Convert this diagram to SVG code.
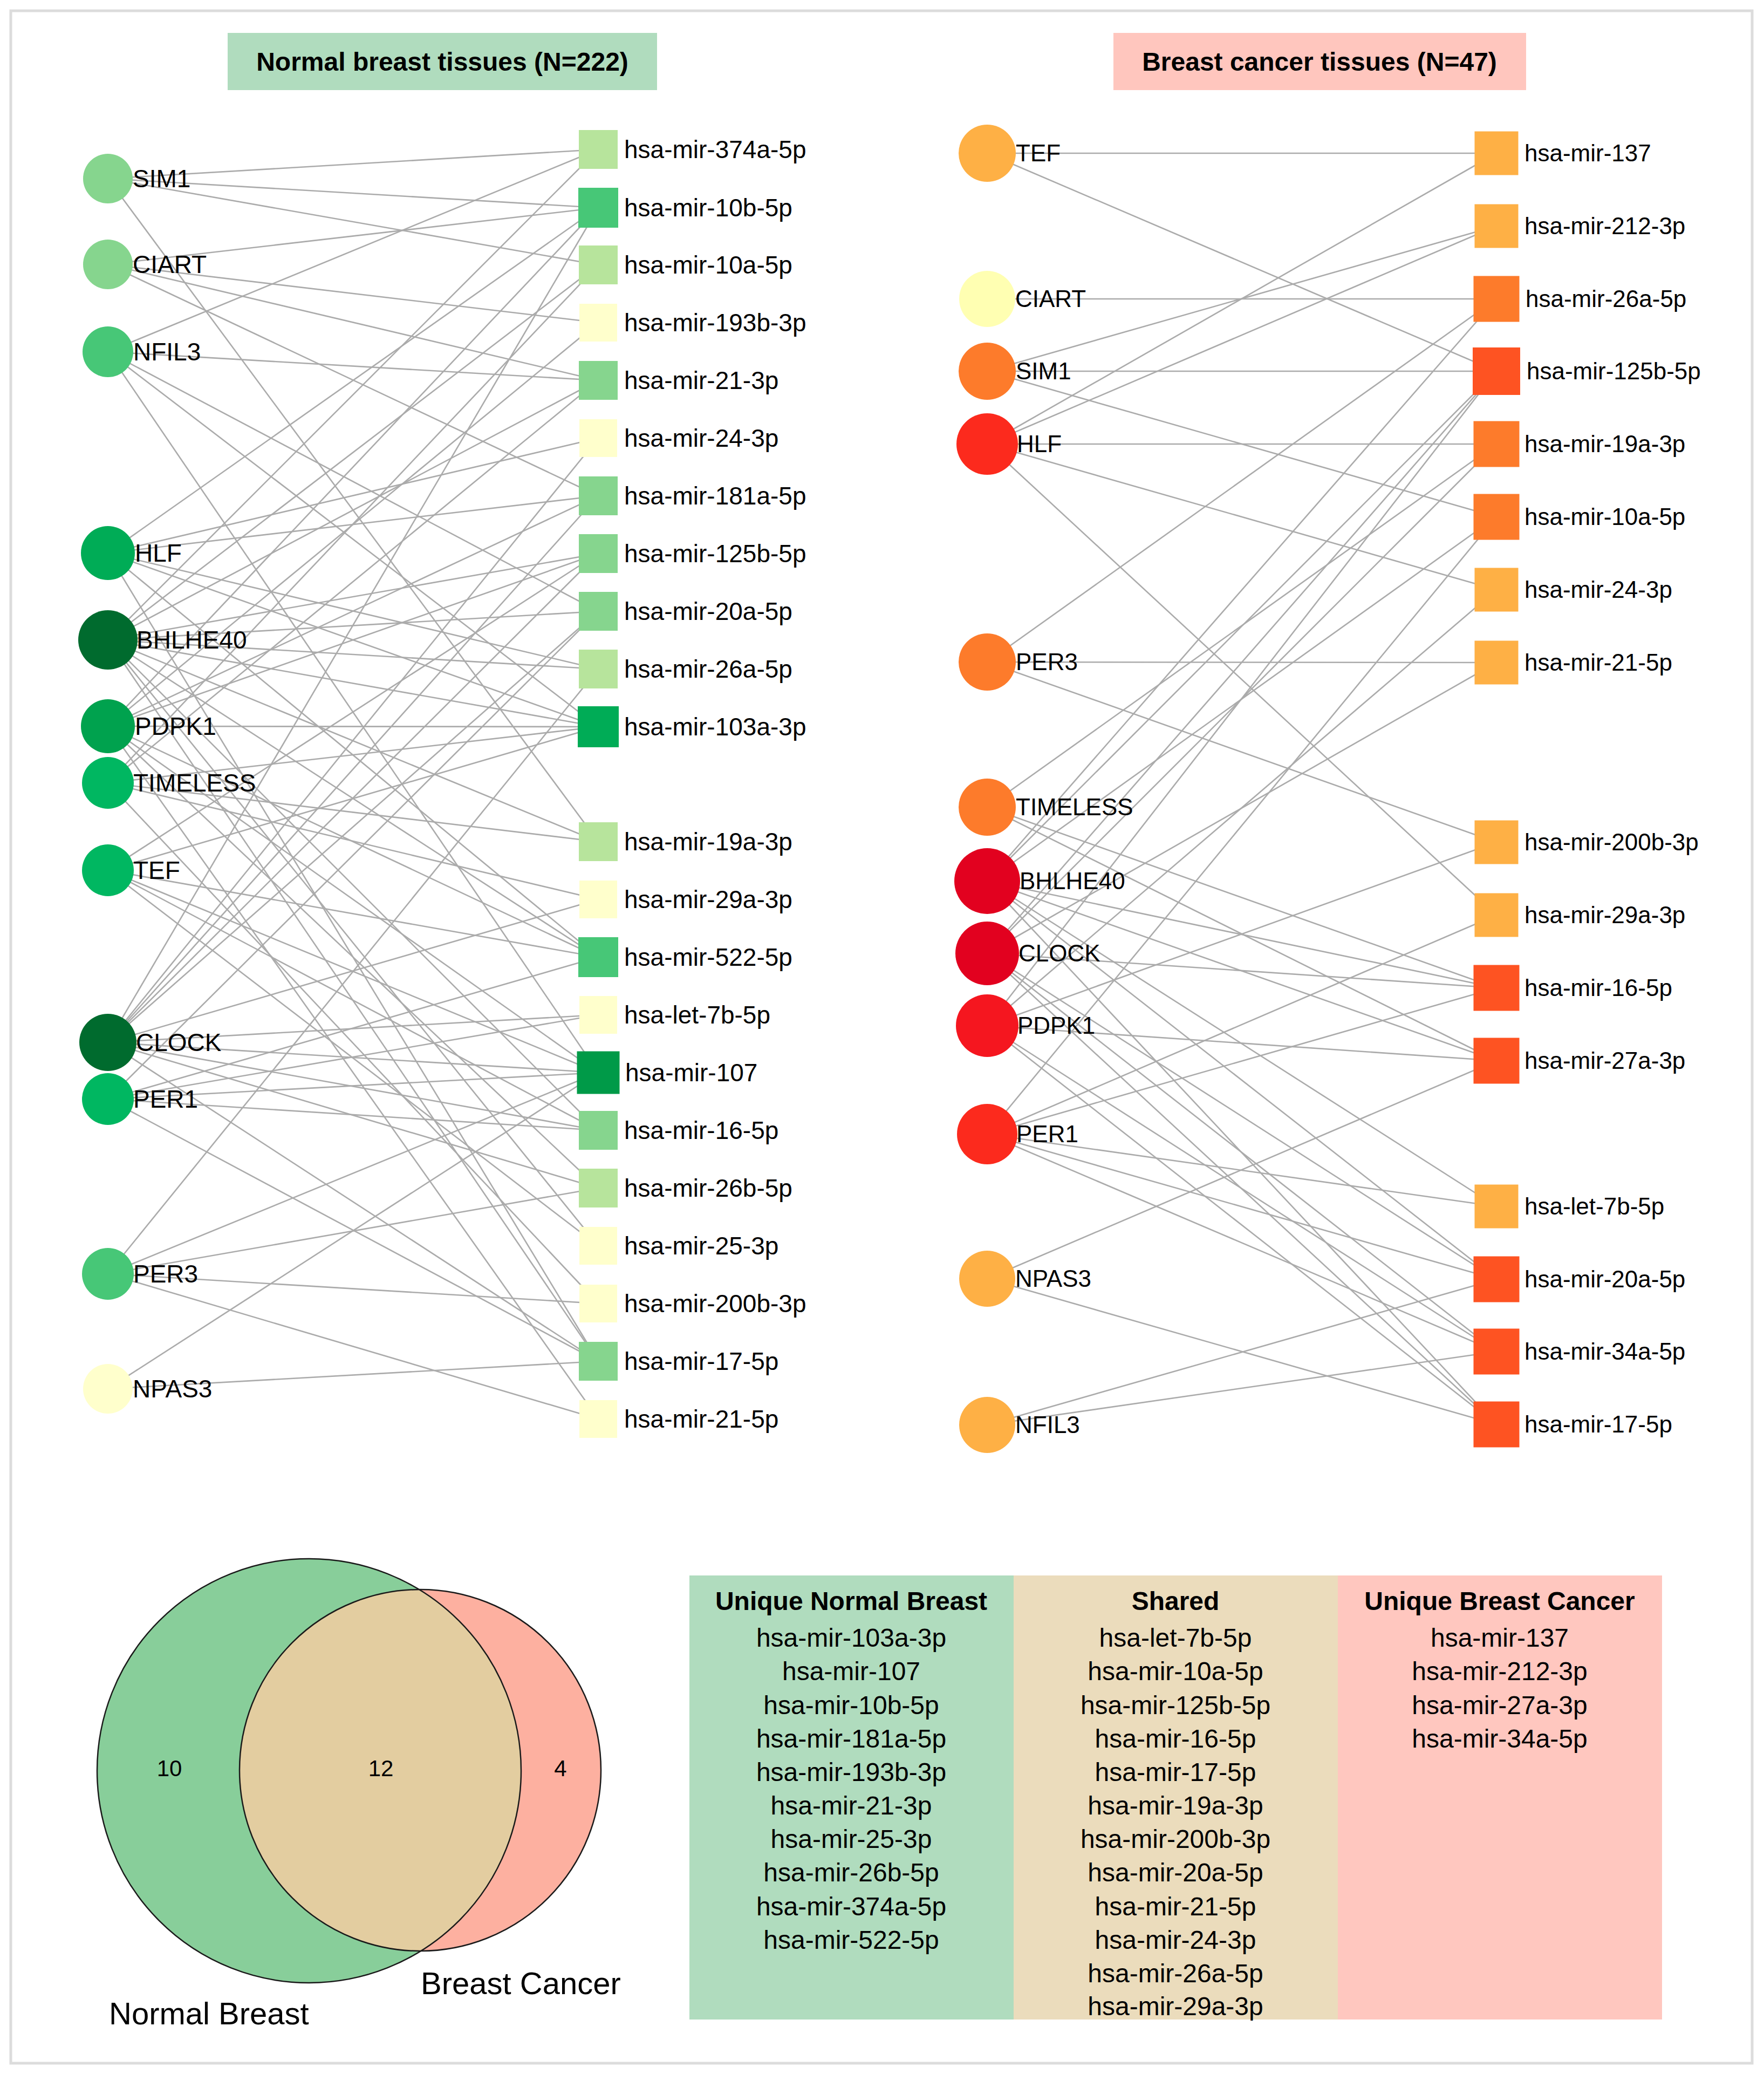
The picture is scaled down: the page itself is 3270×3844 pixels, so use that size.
<svg xmlns="http://www.w3.org/2000/svg" width="3270" height="3844" viewBox="0 0 3270 3844">
<defs>
<style>
.e{stroke:#ABABAB;stroke-width:2.6;fill:none}
.ll{font-family:"Liberation Sans",Arial,sans-serif;font-size:46px;fill:#000}
.rl{font-family:"Liberation Sans",Arial,sans-serif;font-size:44px;fill:#000}
.tt{font-family:"Liberation Sans",Arial,sans-serif;font-size:48px;font-weight:bold;fill:#000;text-anchor:middle}
.th{font-family:"Liberation Sans",Arial,sans-serif;font-size:48px;font-weight:bold;fill:#000;text-anchor:middle}
.tc{font-family:"Liberation Sans",Arial,sans-serif;font-size:48px;fill:#000;text-anchor:middle}
.vn{font-family:"Liberation Sans",Arial,sans-serif;font-size:42px;fill:#000;text-anchor:middle}
.vl{font-family:"Liberation Sans",Arial,sans-serif;font-size:58px;fill:#000}
</style>
<clipPath id="greenClip"><circle cx="573" cy="3282" r="393"/></clipPath>
</defs>
<rect x="0" y="0" width="3270" height="3844" fill="#FFFFFF"/>
<rect x="20" y="20" width="3228" height="3804" fill="none" stroke="#DCDCDC" stroke-width="5"/>

<g id="title-normal"><rect x="422" y="61" width="796" height="106" fill="#B0DCBE"/><text x="820" y="131" class="tt">Normal breast tissues (N=222)</text></g>
<g id="title-cancer"><rect x="2064" y="61" width="765" height="106" fill="#FFC6BE"/><text x="2446" y="131" class="tt">Breast cancer tissues (N=47)</text></g>

<g id="connectors-normal">
<line class="e" x1="200" y1="331" x2="1109" y2="277"/>
<line class="e" x1="200" y1="331" x2="1109" y2="385"/>
<line class="e" x1="200" y1="331" x2="1109" y2="491"/>
<line class="e" x1="200" y1="331" x2="1109" y2="1560"/>
<line class="e" x1="200" y1="490" x2="1109" y2="385"/>
<line class="e" x1="200" y1="490" x2="1109" y2="598"/>
<line class="e" x1="200" y1="490" x2="1109" y2="705"/>
<line class="e" x1="200" y1="490" x2="1109" y2="919"/>
<line class="e" x1="200" y1="652" x2="1109" y2="277"/>
<line class="e" x1="200" y1="652" x2="1109" y2="705"/>
<line class="e" x1="200" y1="652" x2="1109" y2="1133"/>
<line class="e" x1="200" y1="652" x2="1109" y2="1347"/>
<line class="e" x1="200" y1="652" x2="1109" y2="1988"/>
<line class="e" x1="200" y1="1025" x2="1109" y2="385"/>
<line class="e" x1="200" y1="1025" x2="1109" y2="812"/>
<line class="e" x1="200" y1="1025" x2="1109" y2="919"/>
<line class="e" x1="200" y1="1025" x2="1109" y2="1240"/>
<line class="e" x1="200" y1="1025" x2="1109" y2="1347"/>
<line class="e" x1="200" y1="1025" x2="1109" y2="1774"/>
<line class="e" x1="200" y1="1025" x2="1109" y2="2523"/>
<line class="e" x1="200" y1="1186" x2="1109" y2="277"/>
<line class="e" x1="200" y1="1186" x2="1109" y2="491"/>
<line class="e" x1="200" y1="1186" x2="1109" y2="705"/>
<line class="e" x1="200" y1="1186" x2="1109" y2="1026"/>
<line class="e" x1="200" y1="1186" x2="1109" y2="1133"/>
<line class="e" x1="200" y1="1186" x2="1109" y2="1240"/>
<line class="e" x1="200" y1="1186" x2="1109" y2="1347"/>
<line class="e" x1="200" y1="1186" x2="1109" y2="1560"/>
<line class="e" x1="200" y1="1186" x2="1109" y2="1774"/>
<line class="e" x1="200" y1="1186" x2="1109" y2="2095"/>
<line class="e" x1="200" y1="1186" x2="1109" y2="2309"/>
<line class="e" x1="200" y1="1186" x2="1109" y2="2523"/>
<line class="e" x1="200" y1="1346" x2="1109" y2="385"/>
<line class="e" x1="200" y1="1346" x2="1109" y2="598"/>
<line class="e" x1="200" y1="1346" x2="1109" y2="919"/>
<line class="e" x1="200" y1="1346" x2="1109" y2="1026"/>
<line class="e" x1="200" y1="1346" x2="1109" y2="1347"/>
<line class="e" x1="200" y1="1346" x2="1109" y2="1774"/>
<line class="e" x1="200" y1="1346" x2="1109" y2="1988"/>
<line class="e" x1="200" y1="1346" x2="1109" y2="2202"/>
<line class="e" x1="200" y1="1346" x2="1109" y2="2630"/>
<line class="e" x1="200" y1="1451" x2="1109" y2="491"/>
<line class="e" x1="200" y1="1451" x2="1109" y2="705"/>
<line class="e" x1="200" y1="1451" x2="1109" y2="1347"/>
<line class="e" x1="200" y1="1451" x2="1109" y2="1560"/>
<line class="e" x1="200" y1="1451" x2="1109" y2="1667"/>
<line class="e" x1="200" y1="1451" x2="1109" y2="2416"/>
<line class="e" x1="200" y1="1613" x2="1109" y2="1026"/>
<line class="e" x1="200" y1="1613" x2="1109" y2="1347"/>
<line class="e" x1="200" y1="1613" x2="1109" y2="1774"/>
<line class="e" x1="200" y1="1613" x2="1109" y2="1988"/>
<line class="e" x1="200" y1="1613" x2="1109" y2="2095"/>
<line class="e" x1="200" y1="1613" x2="1109" y2="2309"/>
<line class="e" x1="200" y1="1932" x2="1109" y2="385"/>
<line class="e" x1="200" y1="1932" x2="1109" y2="812"/>
<line class="e" x1="200" y1="1932" x2="1109" y2="919"/>
<line class="e" x1="200" y1="1932" x2="1109" y2="1026"/>
<line class="e" x1="200" y1="1932" x2="1109" y2="1133"/>
<line class="e" x1="200" y1="1932" x2="1109" y2="1667"/>
<line class="e" x1="200" y1="1932" x2="1109" y2="1881"/>
<line class="e" x1="200" y1="1932" x2="1109" y2="1988"/>
<line class="e" x1="200" y1="1932" x2="1109" y2="2095"/>
<line class="e" x1="200" y1="1932" x2="1109" y2="2202"/>
<line class="e" x1="200" y1="1932" x2="1109" y2="2523"/>
<line class="e" x1="200" y1="2037" x2="1109" y2="1133"/>
<line class="e" x1="200" y1="2037" x2="1109" y2="1774"/>
<line class="e" x1="200" y1="2037" x2="1109" y2="1881"/>
<line class="e" x1="200" y1="2037" x2="1109" y2="1988"/>
<line class="e" x1="200" y1="2037" x2="1109" y2="2095"/>
<line class="e" x1="200" y1="2037" x2="1109" y2="2523"/>
<line class="e" x1="200" y1="2361" x2="1109" y2="1240"/>
<line class="e" x1="200" y1="2361" x2="1109" y2="1988"/>
<line class="e" x1="200" y1="2361" x2="1109" y2="2202"/>
<line class="e" x1="200" y1="2361" x2="1109" y2="2416"/>
<line class="e" x1="200" y1="2361" x2="1109" y2="2630"/>
<line class="e" x1="200" y1="2574" x2="1109" y2="1988"/>
<line class="e" x1="200" y1="2574" x2="1109" y2="2523"/>
</g>

<g id="connectors-cancer">
<line class="e" x1="1830" y1="284" x2="2774" y2="284"/>
<line class="e" x1="1830" y1="284" x2="2774" y2="688"/>
<line class="e" x1="1830" y1="554" x2="2774" y2="554"/>
<line class="e" x1="1830" y1="688" x2="2774" y2="419"/>
<line class="e" x1="1830" y1="688" x2="2774" y2="688"/>
<line class="e" x1="1830" y1="688" x2="2774" y2="958"/>
<line class="e" x1="1830" y1="823" x2="2774" y2="284"/>
<line class="e" x1="1830" y1="823" x2="2774" y2="419"/>
<line class="e" x1="1830" y1="823" x2="2774" y2="823"/>
<line class="e" x1="1830" y1="823" x2="2774" y2="1093"/>
<line class="e" x1="1830" y1="823" x2="2774" y2="1696"/>
<line class="e" x1="1830" y1="1227" x2="2774" y2="554"/>
<line class="e" x1="1830" y1="1227" x2="2774" y2="1228"/>
<line class="e" x1="1830" y1="1227" x2="2774" y2="1561"/>
<line class="e" x1="1830" y1="1496" x2="2774" y2="823"/>
<line class="e" x1="1830" y1="1496" x2="2774" y2="1831"/>
<line class="e" x1="1830" y1="1496" x2="2774" y2="1966"/>
<line class="e" x1="1830" y1="1633" x2="2774" y2="554"/>
<line class="e" x1="1830" y1="1633" x2="2774" y2="688"/>
<line class="e" x1="1830" y1="1633" x2="2774" y2="958"/>
<line class="e" x1="1830" y1="1633" x2="2774" y2="1831"/>
<line class="e" x1="1830" y1="1633" x2="2774" y2="1966"/>
<line class="e" x1="1830" y1="1633" x2="2774" y2="2236"/>
<line class="e" x1="1830" y1="1633" x2="2774" y2="2371"/>
<line class="e" x1="1830" y1="1633" x2="2774" y2="2640"/>
<line class="e" x1="1830" y1="1767" x2="2774" y2="688"/>
<line class="e" x1="1830" y1="1767" x2="2774" y2="823"/>
<line class="e" x1="1830" y1="1767" x2="2774" y2="1228"/>
<line class="e" x1="1830" y1="1767" x2="2774" y2="1831"/>
<line class="e" x1="1830" y1="1767" x2="2774" y2="2371"/>
<line class="e" x1="1830" y1="1767" x2="2774" y2="2505"/>
<line class="e" x1="1830" y1="1767" x2="2774" y2="2640"/>
<line class="e" x1="1830" y1="1901" x2="2774" y2="688"/>
<line class="e" x1="1830" y1="1901" x2="2774" y2="1093"/>
<line class="e" x1="1830" y1="1901" x2="2774" y2="1561"/>
<line class="e" x1="1830" y1="1901" x2="2774" y2="1966"/>
<line class="e" x1="1830" y1="1901" x2="2774" y2="2505"/>
<line class="e" x1="1830" y1="1901" x2="2774" y2="2640"/>
<line class="e" x1="1830" y1="2102" x2="2774" y2="958"/>
<line class="e" x1="1830" y1="2102" x2="2774" y2="1696"/>
<line class="e" x1="1830" y1="2102" x2="2774" y2="1831"/>
<line class="e" x1="1830" y1="2102" x2="2774" y2="2236"/>
<line class="e" x1="1830" y1="2102" x2="2774" y2="2371"/>
<line class="e" x1="1830" y1="2102" x2="2774" y2="2505"/>
<line class="e" x1="1830" y1="2370" x2="2774" y2="1966"/>
<line class="e" x1="1830" y1="2370" x2="2774" y2="2640"/>
<line class="e" x1="1830" y1="2641" x2="2774" y2="2371"/>
<line class="e" x1="1830" y1="2641" x2="2774" y2="2505"/>
</g>

<g id="normal-genes">
<g id="N-SIM1"><circle cx="200" cy="331" r="46" fill="#86D58E"/><text x="246" y="347" class="ll">SIM1</text></g>
<g id="N-CIART"><circle cx="200" cy="490" r="46" fill="#86D58E"/><text x="246" y="506" class="ll">CIART</text></g>
<g id="N-NFIL3"><circle cx="200" cy="652" r="47" fill="#47C777"/><text x="247" y="668" class="ll">NFIL3</text></g>
<g id="N-HLF"><circle cx="200" cy="1025" r="50" fill="#00AC56"/><text x="250" y="1041" class="ll">HLF</text></g>
<g id="N-BHLHE40"><circle cx="200" cy="1186" r="55" fill="#006B2E"/><text x="253" y="1202" class="ll">BHLHE40</text></g>
<g id="N-PDPK1"><circle cx="200" cy="1346" r="50" fill="#00A24E"/><text x="250" y="1362" class="ll">PDPK1</text></g>
<g id="N-TIMELESS"><circle cx="200" cy="1451" r="48" fill="#00B761"/><text x="247" y="1467" class="ll">TIMELESS</text></g>
<g id="N-TEF"><circle cx="200" cy="1613" r="48" fill="#00B761"/><text x="247" y="1629" class="ll">TEF</text></g>
<g id="N-CLOCK"><circle cx="200" cy="1932" r="53" fill="#006B2E"/><text x="252" y="1948" class="ll">CLOCK</text></g>
<g id="N-PER1"><circle cx="200" cy="2037" r="48" fill="#00B761"/><text x="247" y="2053" class="ll">PER1</text></g>
<g id="N-PER3"><circle cx="200" cy="2361" r="48" fill="#47C777"/><text x="247" y="2377" class="ll">PER3</text></g>
<g id="N-NPAS3"><circle cx="200" cy="2574" r="46" fill="#FFFFCC"/><text x="246" y="2590" class="ll">NPAS3</text></g>
</g>

<g id="normal-mirnas">
<g id="N-mir-374a-5p"><rect x="1073" y="241" width="72" height="72" fill="#B7E49C"/><text x="1157" y="293" class="ll">hsa-mir-374a-5p</text></g>
<g id="N-mir-10b-5p"><rect x="1072" y="348" width="74" height="74" fill="#47C777"/><text x="1157" y="401" class="ll">hsa-mir-10b-5p</text></g>
<g id="N-mir-10a-5p"><rect x="1073" y="455" width="72" height="72" fill="#B7E49C"/><text x="1157" y="507" class="ll">hsa-mir-10a-5p</text></g>
<g id="N-mir-193b-3p"><rect x="1074" y="563" width="70" height="70" fill="#FFFFCC"/><text x="1157" y="614" class="ll">hsa-mir-193b-3p</text></g>
<g id="N-mir-21-3p"><rect x="1073" y="669" width="72" height="72" fill="#86D58E"/><text x="1157" y="721" class="ll">hsa-mir-21-3p</text></g>
<g id="N-mir-24-3p"><rect x="1074" y="777" width="70" height="70" fill="#FFFFCC"/><text x="1157" y="828" class="ll">hsa-mir-24-3p</text></g>
<g id="N-mir-181a-5p"><rect x="1073" y="883" width="72" height="72" fill="#86D58E"/><text x="1157" y="935" class="ll">hsa-mir-181a-5p</text></g>
<g id="N-mir-125b-5p"><rect x="1073" y="990" width="72" height="72" fill="#86D58E"/><text x="1157" y="1042" class="ll">hsa-mir-125b-5p</text></g>
<g id="N-mir-20a-5p"><rect x="1073" y="1097" width="72" height="72" fill="#86D58E"/><text x="1157" y="1149" class="ll">hsa-mir-20a-5p</text></g>
<g id="N-mir-26a-5p"><rect x="1073" y="1204" width="72" height="72" fill="#B7E49C"/><text x="1157" y="1256" class="ll">hsa-mir-26a-5p</text></g>
<g id="N-mir-103a-3p"><rect x="1071" y="1309" width="76" height="76" fill="#00AC56"/><text x="1157" y="1363" class="ll">hsa-mir-103a-3p</text></g>
<g id="N-mir-19a-3p"><rect x="1073" y="1524" width="72" height="72" fill="#B7E49C"/><text x="1157" y="1576" class="ll">hsa-mir-19a-3p</text></g>
<g id="N-mir-29a-3p"><rect x="1074" y="1632" width="70" height="70" fill="#FFFFCC"/><text x="1157" y="1683" class="ll">hsa-mir-29a-3p</text></g>
<g id="N-mir-522-5p"><rect x="1072" y="1737" width="74" height="74" fill="#47C777"/><text x="1157" y="1790" class="ll">hsa-mir-522-5p</text></g>
<g id="N-let-7b-5p"><rect x="1074" y="1846" width="70" height="70" fill="#FFFFCC"/><text x="1157" y="1897" class="ll">hsa-let-7b-5p</text></g>
<g id="N-mir-107"><rect x="1069.5" y="1948.5" width="79" height="79" fill="#009A48"/><text x="1159" y="2004" class="ll">hsa-mir-107</text></g>
<g id="N-mir-16-5p"><rect x="1073" y="2059" width="72" height="72" fill="#86D58E"/><text x="1157" y="2111" class="ll">hsa-mir-16-5p</text></g>
<g id="N-mir-26b-5p"><rect x="1073" y="2166" width="72" height="72" fill="#B7E49C"/><text x="1157" y="2218" class="ll">hsa-mir-26b-5p</text></g>
<g id="N-mir-25-3p"><rect x="1074" y="2274" width="70" height="70" fill="#FFFFCC"/><text x="1157" y="2325" class="ll">hsa-mir-25-3p</text></g>
<g id="N-mir-200b-3p"><rect x="1074" y="2381" width="70" height="70" fill="#FFFFCC"/><text x="1157" y="2432" class="ll">hsa-mir-200b-3p</text></g>
<g id="N-mir-17-5p"><rect x="1073" y="2487" width="72" height="72" fill="#86D58E"/><text x="1157" y="2539" class="ll">hsa-mir-17-5p</text></g>
<g id="N-mir-21-5p"><rect x="1074" y="2595" width="70" height="70" fill="#FFFFCC"/><text x="1157" y="2646" class="ll">hsa-mir-21-5p</text></g>
</g>

<g id="cancer-genes">
<g id="C-TEF"><circle cx="1830" cy="284" r="53" fill="#FEB045"/><text x="1883" y="299" class="rl">TEF</text></g>
<g id="C-CIART"><circle cx="1830" cy="554" r="52" fill="#FFFFB2"/><text x="1882" y="569" class="rl">CIART</text></g>
<g id="C-SIM1"><circle cx="1830" cy="688" r="53" fill="#FD7B2B"/><text x="1883" y="703" class="rl">SIM1</text></g>
<g id="C-HLF"><circle cx="1830" cy="823" r="57" fill="#FC2A1D"/><text x="1885" y="838" class="rl">HLF</text></g>
<g id="C-PER3"><circle cx="1830" cy="1227" r="53" fill="#FD7B2B"/><text x="1883" y="1242" class="rl">PER3</text></g>
<g id="C-TIMELESS"><circle cx="1830" cy="1496" r="53" fill="#FD7B2B"/><text x="1883" y="1511" class="rl">TIMELESS</text></g>
<g id="C-BHLHE40"><circle cx="1830" cy="1633" r="61" fill="#E2011F"/><text x="1890" y="1648" class="rl">BHLHE40</text></g>
<g id="C-CLOCK"><circle cx="1830" cy="1767" r="59" fill="#E2011F"/><text x="1888" y="1782" class="rl">CLOCK</text></g>
<g id="C-PDPK1"><circle cx="1830" cy="1901" r="58" fill="#F5161F"/><text x="1886" y="1916" class="rl">PDPK1</text></g>
<g id="C-PER1"><circle cx="1830" cy="2102" r="56" fill="#FC2A1D"/><text x="1884" y="2117" class="rl">PER1</text></g>
<g id="C-NPAS3"><circle cx="1830" cy="2370" r="52" fill="#FEB045"/><text x="1882" y="2385" class="rl">NPAS3</text></g>
<g id="C-NFIL3"><circle cx="1830" cy="2641" r="52" fill="#FEB045"/><text x="1882" y="2656" class="rl">NFIL3</text></g>
</g>

<g id="cancer-mirnas">
<g id="C-mir-137"><rect x="2733.5" y="243.5" width="81" height="81" fill="#FEB045"/><text x="2826" y="299" class="rl">hsa-mir-137</text></g>
<g id="C-mir-212-3p"><rect x="2733.5" y="378.5" width="81" height="81" fill="#FEB045"/><text x="2826" y="434" class="rl">hsa-mir-212-3p</text></g>
<g id="C-mir-26a-5p"><rect x="2731.5" y="511.5" width="85" height="85" fill="#FD7B2B"/><text x="2828" y="569" class="rl">hsa-mir-26a-5p</text></g>
<g id="C-mir-125b-5p"><rect x="2730" y="644" width="88" height="88" fill="#FE5322"/><text x="2830" y="703" class="rl">hsa-mir-125b-5p</text></g>
<g id="C-mir-19a-3p"><rect x="2731.5" y="780.5" width="85" height="85" fill="#FD7B2B"/><text x="2826" y="838" class="rl">hsa-mir-19a-3p</text></g>
<g id="C-mir-10a-5p"><rect x="2731.5" y="915.5" width="85" height="85" fill="#FD7B2B"/><text x="2826" y="973" class="rl">hsa-mir-10a-5p</text></g>
<g id="C-mir-24-3p"><rect x="2733.5" y="1052.5" width="81" height="81" fill="#FEB045"/><text x="2826" y="1108" class="rl">hsa-mir-24-3p</text></g>
<g id="C-mir-21-5p"><rect x="2733.5" y="1187.5" width="81" height="81" fill="#FEB045"/><text x="2826" y="1243" class="rl">hsa-mir-21-5p</text></g>
<g id="C-mir-200b-3p"><rect x="2733.5" y="1520.5" width="81" height="81" fill="#FEB045"/><text x="2826" y="1576" class="rl">hsa-mir-200b-3p</text></g>
<g id="C-mir-29a-3p"><rect x="2733.5" y="1655.5" width="81" height="81" fill="#FEB045"/><text x="2826" y="1711" class="rl">hsa-mir-29a-3p</text></g>
<g id="C-mir-16-5p"><rect x="2731.5" y="1788.5" width="85" height="85" fill="#FE5322"/><text x="2826" y="1846" class="rl">hsa-mir-16-5p</text></g>
<g id="C-mir-27a-3p"><rect x="2731.5" y="1923.5" width="85" height="85" fill="#FE5322"/><text x="2826" y="1981" class="rl">hsa-mir-27a-3p</text></g>
<g id="C-let-7b-5p"><rect x="2733.5" y="2195.5" width="81" height="81" fill="#FEB045"/><text x="2826" y="2251" class="rl">hsa-let-7b-5p</text></g>
<g id="C-mir-20a-5p"><rect x="2731.5" y="2328.5" width="85" height="85" fill="#FE5322"/><text x="2826" y="2386" class="rl">hsa-mir-20a-5p</text></g>
<g id="C-mir-34a-5p"><rect x="2731.5" y="2462.5" width="85" height="85" fill="#FE5322"/><text x="2826" y="2520" class="rl">hsa-mir-34a-5p</text></g>
<g id="C-mir-17-5p"><rect x="2731.5" y="2597.5" width="85" height="85" fill="#FE5322"/><text x="2826" y="2655" class="rl">hsa-mir-17-5p</text></g>
</g>

<g id="venn">
<circle cx="573" cy="3282" r="393" fill="#88CE9A"/>
<circle cx="779" cy="3281" r="335" fill="#FDB0A0"/>
<circle cx="779" cy="3281" r="335" fill="#E3CDA0" clip-path="url(#greenClip)"/>
<circle cx="573" cy="3282" r="393" fill="none" stroke="#1A1A1A" stroke-width="2.5"/>
<circle cx="779" cy="3281" r="335" fill="none" stroke="#1A1A1A" stroke-width="2.5"/>
<text x="314" y="3292" class="vn">10</text>
<text x="706" y="3292" class="vn">12</text>
<text x="1039" y="3292" class="vn">4</text>
<text x="202" y="3752" class="vl">Normal Breast</text>
<text x="780" y="3696" class="vl">Breast Cancer</text>
</g>

<g id="table">
<rect x="1278" y="2920" width="601" height="823" fill="#B0DCBE"/>
<rect x="1879" y="2920" width="601" height="823" fill="#EBDCBC"/>
<rect x="2480" y="2920" width="601" height="823" fill="#FFC7BF"/>
<text x="1578" y="2984" class="th">Unique Normal Breast</text>
<text x="2179" y="2984" class="th">Shared</text>
<text x="2780" y="2984" class="th">Unique Breast Cancer</text>
<g class="tc">
<text x="1578" y="3052">hsa-mir-103a-3p</text>
<text x="1578" y="3114">hsa-mir-107</text>
<text x="1578" y="3177">hsa-mir-10b-5p</text>
<text x="1578" y="3239">hsa-mir-181a-5p</text>
<text x="1578" y="3301">hsa-mir-193b-3p</text>
<text x="1578" y="3363">hsa-mir-21-3p</text>
<text x="1578" y="3425">hsa-mir-25-3p</text>
<text x="1578" y="3487">hsa-mir-26b-5p</text>
<text x="1578" y="3550">hsa-mir-374a-5p</text>
<text x="1578" y="3612">hsa-mir-522-5p</text>
<text x="2179" y="3052">hsa-let-7b-5p</text>
<text x="2179" y="3114">hsa-mir-10a-5p</text>
<text x="2179" y="3177">hsa-mir-125b-5p</text>
<text x="2179" y="3239">hsa-mir-16-5p</text>
<text x="2179" y="3301">hsa-mir-17-5p</text>
<text x="2179" y="3363">hsa-mir-19a-3p</text>
<text x="2179" y="3425">hsa-mir-200b-3p</text>
<text x="2179" y="3487">hsa-mir-20a-5p</text>
<text x="2179" y="3550">hsa-mir-21-5p</text>
<text x="2179" y="3612">hsa-mir-24-3p</text>
<text x="2179" y="3674">hsa-mir-26a-5p</text>
<text x="2179" y="3735">hsa-mir-29a-3p</text>
<text x="2780" y="3052">hsa-mir-137</text>
<text x="2780" y="3114">hsa-mir-212-3p</text>
<text x="2780" y="3177">hsa-mir-27a-3p</text>
<text x="2780" y="3239">hsa-mir-34a-5p</text>
</g>
</g>
</svg>
